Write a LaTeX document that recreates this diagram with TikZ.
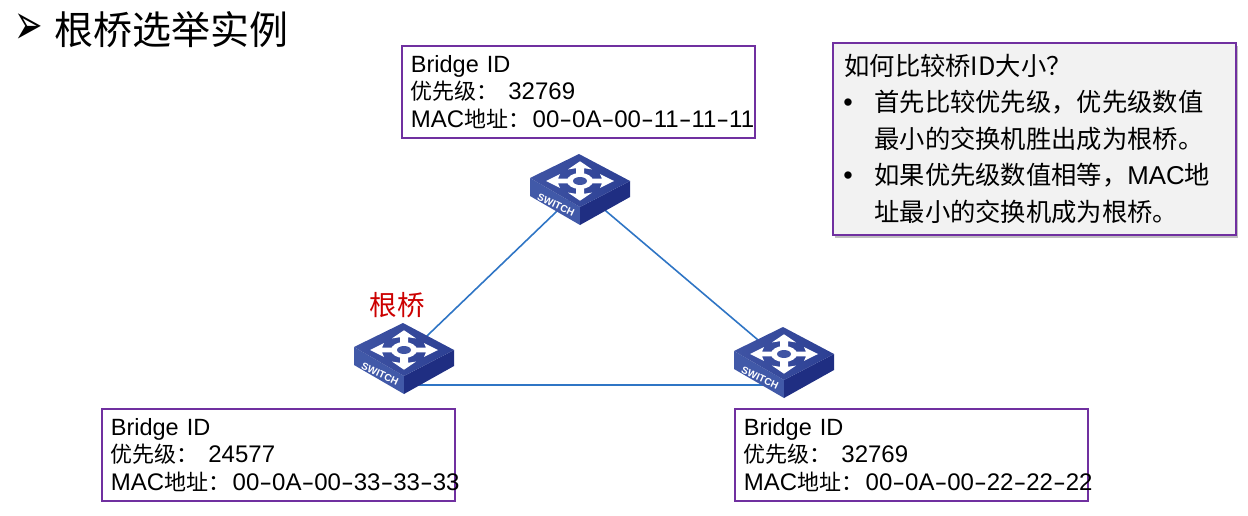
\documentclass[tikz,border=0pt]{standalone}
\usepackage{fontspec}
\setmainfont{Liberation Sans}
\newfontfamily\cjk{Noto Sans CJK SC}
\newfontfamily\dingfont{DejaVu Sans}
\usetikzlibrary{backgrounds,shadows}
\definecolor{boxpurple}{HTML}{7030A0}
\definecolor{linkblue}{HTML}{2F75C5}
\definecolor{swtop}{HTML}{3F54A4}
\definecolor{swtopdark}{HTML}{2C3F93}
\definecolor{swleft}{HTML}{4159A8}
\definecolor{swright}{HTML}{1F2E82}
\newcommand{\macdash}{\scalebox{1.6}[1]{-}}
\newcommand{\bridgeid}[2]{{\fontsize{23.5}{27.5}\selectfont Bridge ID}\\{\cjk\fontsize{22}{27.5}\selectfont 优先级：} \kern1.5pt#1\\\mbox{MAC{\cjk\fontsize{22}{27.5}\selectfont 地址：}\kern2.5pt#2}}
\newcommand{\bulletitem}{\makebox[30pt][l]{\hspace*{-1pt}\fontspec{Liberation Sans}\fontsize{27}{36.5}\selectfont •}}
\newcommand{\bulletrest}{\hspace*{30pt}}
\tikzset{
  idbox/.style={draw=boxpurple,line width=1.8pt,anchor=north west,minimum width=353pt,minimum height=92pt,
    text width=335pt,inner sep=9pt,align=left,font=\fontsize{24}{27.5}\selectfont},
  link/.style={draw=linkblue,line width=1.6pt},
  pics/switchicon/.style={code={
    \fill[swleft] (-50,-3)--(0,26)--(0,44)--(-50,15)--cycle;
    \fill[swright] (50,0)--(0,26)--(0,44)--(50,16)--cycle;
    \shade[left color=swtop,right color=swtopdark] (-1,-27)--(50,0)--(0,26)--(-50,-3)--cycle;
    \foreach \a in {0,90,180,270}
      \fill[white,yscale=.58,rotate=\a] (9,-4)--(22,-4)--(20,-12)--(34,0)--(20,12)--(22,4)--(9,4)--cycle;
    \fill[white] (0,0) ellipse (13 and 8);
    \fill[swtop] (0,0) ellipse (7 and 4);
    \node[white,rotate=-25,inner sep=0pt,font=\fontsize{10}{10}\bfseries] (-tag) at (-24,24) {SWITCH};
    \coordinate (-c) at (0,8);
  }}
}
\begin{document}
\begin{tikzpicture}[x=1pt,y=-1pt]
\useasboundingbox (0,0) rectangle (1248,516);

\node[font=\dingfont\fontsize{34}{34}\selectfont,inner sep=0pt,yscale=1.7,transform shape] (mark) at (29,29) {➢};
\node[right,inner sep=0pt,font=\cjk\fontsize{39}{39}\selectfont] (title) at (54,30) {根桥选举实例};

\pic (swTop) at (580,181) {switchicon};
\pic (swLeft) at (404,350) {switchicon};
\pic (swRight) at (784,354) {switchicon};

\begin{scope}[on background layer]
\draw[link] (swTop-c)--(swLeft-c);
\draw[link] (swTop-c)--(swRight-c);
\draw[link] (swLeft-c |- 0,385)--(swRight-c |- 0,385);
\end{scope}

\node[text=red!80!black,inner sep=0pt,font=\cjk\fontsize{27.5}{27.5}\selectfont] (rootlabel) at (397,305) {根桥};

\node[idbox] (idTop) at (401,45) {\bridgeid{32769}{00\macdash 0A\macdash 00\macdash 11\macdash 11\macdash 11}};
\node[idbox] (idLeft) at (101,408) {\bridgeid{24577}{00\macdash 0A\macdash 00\macdash 33\macdash 33\macdash 33}};
\node[idbox] (idRight) at (734,408) {\bridgeid{32769}{00\macdash 0A\macdash 00\macdash 22\macdash 22\macdash 22}};

\node[draw=boxpurple,line width=1.8pt,fill=black!5,anchor=north west,minimum width=403pt,minimum height=192pt,
  text width=380pt,inner sep=11pt,align=left,font=\cjk\fontsize{25.3}{36.5}\selectfont,
  drop shadow={shadow xshift=2pt,shadow yshift=-3pt,opacity=.5}] (question) at (832,42)
  {如何比较桥ID大小？\\
   \bulletitem 首先比较优先级，优先级数值\\
   \bulletrest 最小的交换机胜出成为根桥。\\
   \bulletitem 如果优先级数值相等，{\fontspec{Liberation Sans}\fontsize{25.8}{36.5}\selectfont MAC}地\\
   \bulletrest 址最小的交换机成为根桥。};
\end{tikzpicture}
\end{document}
